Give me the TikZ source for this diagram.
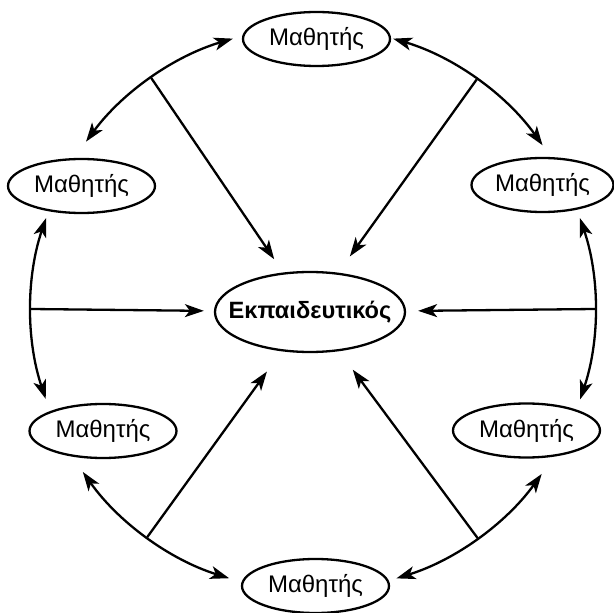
\documentclass[tikz,border=0pt]{standalone}
\usepackage{fontspec}
\setmainfont{Liberation Sans}
\usetikzlibrary{arrows.meta,shapes.geometric}

\begin{document}
\begin{tikzpicture}[x=1pt, y=1pt,
        student/.style={ellipse, draw, line width=2.3pt, minimum width=147pt, minimum height=54pt, inner sep=0pt, font=\fontsize{24}{28}\selectfont},
        teacher/.style={ellipse, draw, line width=2.3pt, minimum width=190pt, minimum height=80pt, inner sep=0pt, font=\fontsize{23.6}{28}\selectfont\bfseries},
        link/.style={line width=2.3pt, arrows={-Stealth[length=19pt, width=13pt, inset=5pt]}},
        twoway/.style={line width=2.3pt, arrows={Stealth[length=19pt, width=13pt, inset=5pt]-Stealth[length=19pt, width=13pt, inset=5pt]}}]
        \useasboundingbox (-313,-304) rectangle (301,309);

        % Nodes
        \node[teacher] (tch) at (-3,-3) {\makebox[0pt]{Εκπαιδευτικός}};
        \node[student] (st1) at (3.5,270) {Μαθητής};
        \node[student] (st2) at (-231.5,123) {Μαθητής};
        \node[student] (st3) at (-210,-122) {Μαθητής};
        \node[student] (st4) at (2.5,-277) {Μαθητής};
        \node[student] (st5) at (213.5,-121.5) {Μαθητής};
        \node[student, minimum width=142pt] (st6) at (229.5,124) {Μαθητής};

        % Points on the circle
        \coordinate (a12) at (106.5:282);
        \coordinate (a23) at (161.2:282);
        \coordinate (a34) at (215.3:282);
        \coordinate (a45) at (287.2:282);
        \coordinate (a56) at (-18.7:282);
        \coordinate (a61) at (35.5:282);
        \coordinate (j12) at (125:282);
        \coordinate (j23) at (180:282);
        \coordinate (j34) at (234:282);
        \coordinate (j45) at (305.7:282);
        \coordinate (j56) at (0:282);
        \coordinate (j61) at (54.5:282);

        % Edges between students
        \draw[twoway] (a12) arc[start angle=106.5, end angle=143.6, radius=282pt];
        \draw[twoway] (a23) arc[start angle=161.2, end angle=198.6, radius=282pt];
        \draw[twoway] (a34) arc[start angle=215.3, end angle=252.7, radius=282pt];
        \draw[twoway] (a45) arc[start angle=287.2, end angle=324.2, radius=282pt];
        \draw[twoway] (a56) arc[start angle=-18.7, end angle=18.8, radius=282pt];
        \draw[twoway] (a61) arc[start angle=35.5, end angle=73.5, radius=282pt];

        % Edges to the teacher
        \draw[link, shorten >=16pt] (j12) -- (tch);
        \draw[link, shorten >=10pt] (j23) -- (tch);
        \draw[link, shorten >=25pt] (j34) -- (tch);
        \draw[link, shorten >=23pt] (j45) -- (tch);
        \draw[link, shorten >=12pt] (j56) -- (tch);
        \draw[link, shorten >=20pt] (j61) -- (tch);
    \end{tikzpicture}
\end{document}
